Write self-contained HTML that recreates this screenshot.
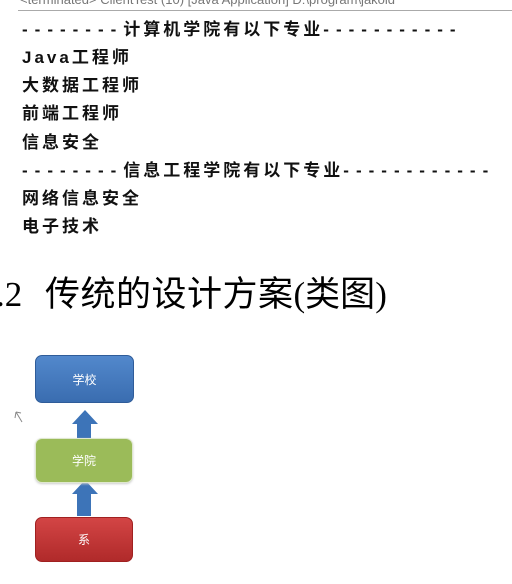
<!DOCTYPE html>
<html><head><meta charset="utf-8"><style>
body{margin:0;width:512px;height:584px;background:#fff;position:relative;overflow:hidden;font-family:"Liberation Sans","Noto Sans CJK SC",sans-serif;}
.t{position:absolute;left:22px;font-size:17px;font-weight:bold;color:#111;white-space:nowrap;line-height:20px;letter-spacing:3px;}
.d{letter-spacing:7px;}
.box{position:absolute;border-radius:7px;color:#fff;font-size:12px;display:flex;align-items:center;justify-content:center;}
</style></head><body>
<div style="position:absolute;left:20px;top:-8px;font-size:13px;color:#777;white-space:nowrap;">&lt;terminated&gt; ClientTest (10) [Java Application] D:\program\jakold</div>
<div style="position:absolute;left:18px;top:10px;width:494px;height:1px;background:#aaa;"></div>
<div class="t" style="top:20px"><span class="d">--------</span>计算机学院有以下专业<span class="d">-----------</span></div>
<div class="t" style="top:48px">Java工程师</div>
<div class="t" style="top:76px">大数据工程师</div>
<div class="t" style="top:104px">前端工程师</div>
<div class="t" style="top:133px">信息安全</div>
<div class="t" style="top:161px"><span class="d">--------</span>信息工程学院有以下专业<span class="d">------------</span></div>
<div class="t" style="top:189px">网络信息安全</div>
<div class="t" style="top:217px">电子技术</div>
<div style="position:absolute;left:-4px;top:272px;font-size:35px;color:#000;white-space:nowrap;line-height:40px;font-family:'Liberation Serif','Noto Sans CJK SC',serif;">.2 <span style="font-family:'Noto Sans CJK SC',sans-serif;margin-left:14px;letter-spacing:0.5px">传统的设计方案</span>(<span style="font-family:'Noto Sans CJK SC',sans-serif">类图</span>)</div>
<svg style="position:absolute;left:0;top:0" width="512" height="584">
<path d="M77 438 V424 H72 L85 410 L98 424 H91 V438 Z" fill="#3d74b8"/>
<path d="M77 516 V494 H72 L85 480 L98 494 H91 V516 Z" fill="#3d74b8"/>
<path d="M16 412 L22 422 M16 412 L15 418 M16 412 L21 413" stroke="#888" stroke-width="1" fill="none"/>
</svg>
<div class="box" style="left:35px;top:355px;width:99px;height:48px;background:linear-gradient(#5288cc,#3a6db0);border:1px solid #2f5c99;box-sizing:border-box;">学校</div>
<div class="box" style="left:35px;top:438px;width:98px;height:45px;background:#9bbb59;border:1px solid #dfe8cf;box-sizing:border-box;box-shadow:0 1px 2px #ccc;">学院</div>
<div class="box" style="left:35px;top:517px;width:98px;height:45px;background:linear-gradient(#d34545,#b02a2a);border:1px solid #a02020;box-sizing:border-box;">系</div>
</body></html>
